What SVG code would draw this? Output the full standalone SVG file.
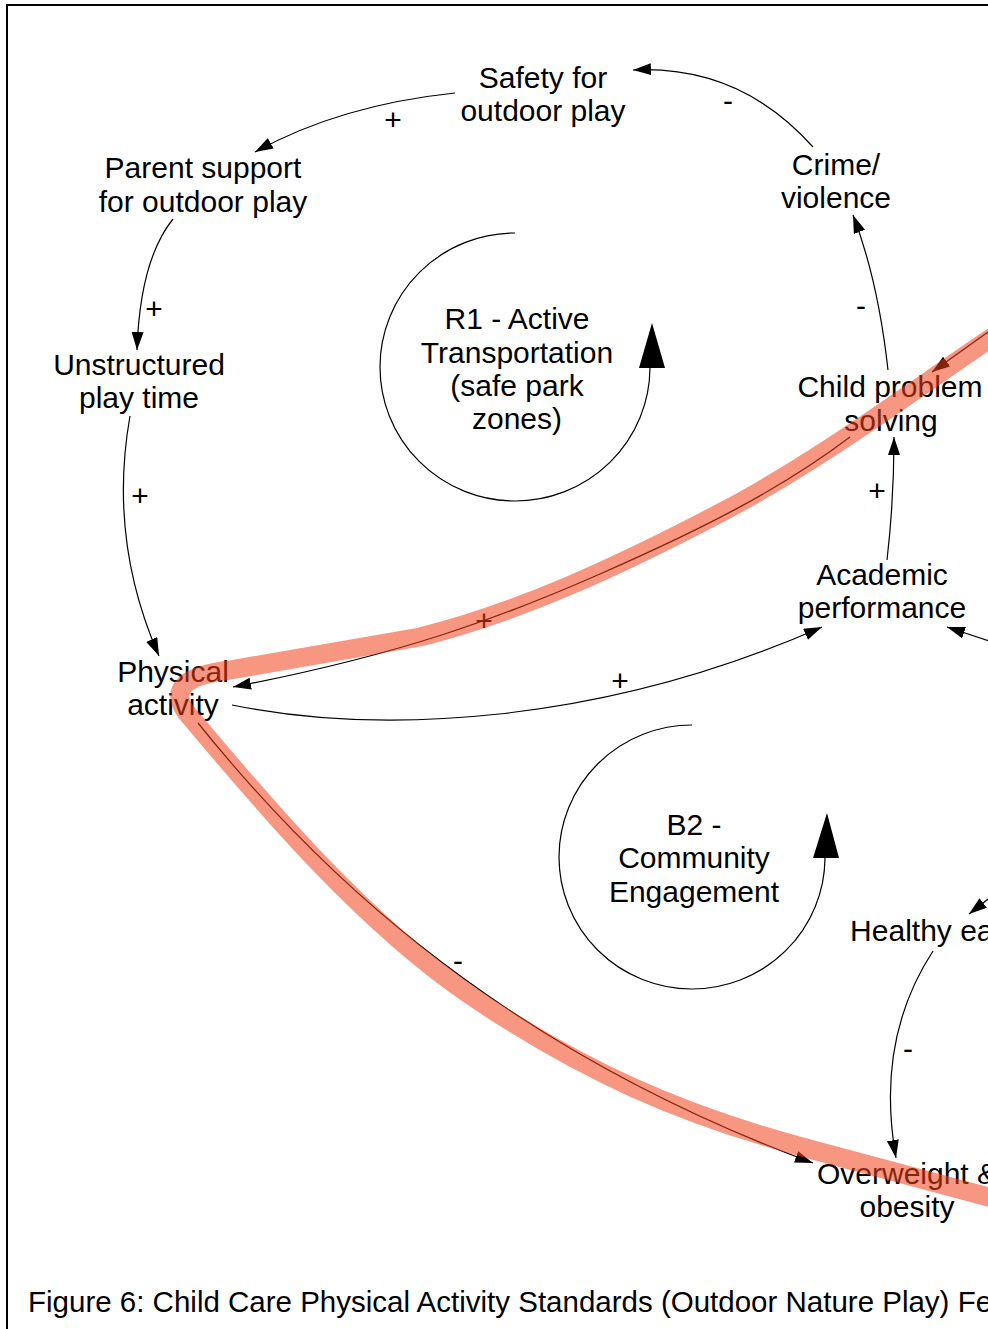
<svg xmlns="http://www.w3.org/2000/svg" width="988" height="1329" viewBox="0 0 988 1329">
<style>
.t{font-family:"Liberation Sans",Arial,sans-serif;font-size:30px;fill:#000;text-anchor:middle}
.p{font-family:"Liberation Sans",Arial,sans-serif;font-size:30px;fill:#000;text-anchor:middle}
.c{fill:none;stroke:#000;stroke-width:1.2}
.loop{fill:none;stroke:#000;stroke-width:1.2}
.hl{fill:none;stroke:#f0401a;stroke-opacity:0.55;stroke-width:19;stroke-linejoin:round;stroke-linecap:butt}
</style>
<defs>
<marker id="ah" markerUnits="userSpaceOnUse" markerWidth="20" markerHeight="14" refX="18" refY="6" orient="auto">
<path d="M0,0 L18,6 L0,12 z" fill="#000"/>
</marker>
</defs>
<rect width="988" height="1329" fill="#fff"/>
<path d="M7,1329 V5 H990" fill="none" stroke="#000" stroke-width="2"/>

<g id="connectors">
<path class="c" d="M455,93 Q340,105 255,152" marker-end="url(#ah)"/>
<path class="c" d="M813,147 Q740,65 633,70" marker-end="url(#ah)"/>
<path class="c" d="M173,219 Q140,260 137,350" marker-end="url(#ah)"/>
<path class="c" d="M130,416 Q108,540 159,656" marker-end="url(#ah)"/>
<path class="c" d="M888,370 Q878,280 853,215" marker-end="url(#ah)"/>
<path class="c" d="M887,560 Q894,500 894,437" marker-end="url(#ah)"/>
<path class="c" d="M232,705 C380,735 600,725 822,627" marker-end="url(#ah)"/>
<path class="c" d="M992,642 L947,627" marker-end="url(#ah)"/>
<path class="c" d="M992,896 L969,914" marker-end="url(#ah)"/>
<path class="c" d="M933,951 Q875,1040 896,1158" marker-end="url(#ah)"/>
<path class="c" d="M995,327 Q960,352 932,372" marker-end="url(#ah)"/>
<path class="c" d="M850,437 C780,490 700,530 600,574 S400,655 233,687" marker-end="url(#ah)"/>
<path class="c" d="M198,723 C300,850 480,1040 813,1163" marker-end="url(#ah)"/>
<g class="pol">
<text class="p" x="393" y="130">+</text>
<text class="p" x="728" y="111">-</text>
<text class="p" x="154" y="319">+</text>
<text class="p" x="140" y="506">+</text>
<text class="p" x="861" y="316">-</text>
<text class="p" x="877" y="501">+</text>
<text class="p" x="620" y="691">+</text>
<text class="p" x="484" y="631">+</text>
<text class="p" x="458" y="971">-</text>
<text class="p" x="908" y="1059">-</text>
</g>
</g>

<g id="loop-r1">
<path class="loop" d="M515,233 A135,134 0 1 0 650,368"/>
<path d="M652,323 L639,368 L665,368 z" fill="#000"/>
<text class="t" x="517" y="329">R1 - Active</text>
<text class="t" x="517" y="363">Transportation</text>
<text class="t" x="517" y="396">(safe park</text>
<text class="t" x="517" y="429">zones)</text>
</g>
<g id="loop-b2">
<path class="loop" d="M692,725 A133,132 0 1 0 825,858"/>
<path d="M827,813 L813,858 L839,858 z" fill="#000"/>
<text class="t" x="694" y="835">B2 -</text>
<text class="t" x="694" y="868">Community</text>
<text class="t" x="694" y="902">Engagement</text>
</g>

<g id="n-safety"><text class="t" x="543" y="88">Safety for</text><text class="t" x="543" y="121">outdoor play</text></g>
<g id="n-parent"><text class="t" x="203" y="178">Parent support</text><text class="t" x="203" y="212">for outdoor play</text></g>
<g id="n-crime"><text class="t" x="836" y="175">Crime/</text><text class="t" x="836" y="208">violence</text></g>
<g id="n-unstructured"><text class="t" x="139" y="375">Unstructured</text><text class="t" x="139" y="408">play time</text></g>
<g id="n-child"><text class="t" x="890" y="397">Child problem</text><text class="t" x="891" y="431">solving</text></g>
<g id="n-academic"><text class="t" x="882" y="585">Academic</text><text class="t" x="882" y="618">performance</text></g>
<g id="n-physical"><text class="t" x="173" y="682">Physical</text><text class="t" x="173" y="715">activity</text></g>
<g id="n-healthy"><text class="t" x="946" y="941">Healthy eating</text></g>
<g id="n-overweight"><text class="t" x="907" y="1184">Overweight &amp;</text><text class="t" x="907" y="1217">obesity</text></g>

<g id="highlight">
<path class="hl" d="M1000,332 C930,378 825,458 722,512 S520,612 420,637 L230,670 Q162,678 186,712 C260,800 360,920 470,995 S680,1115 813,1150 L1000,1200"/>
</g>

<text x="28" y="1312" style="font-family:'Liberation Sans',Arial,sans-serif;font-size:29.5px;fill:#000">Figure 6: Child Care Physical Activity Standards (Outdoor Nature Play) Feedback Loops</text>
</svg>
